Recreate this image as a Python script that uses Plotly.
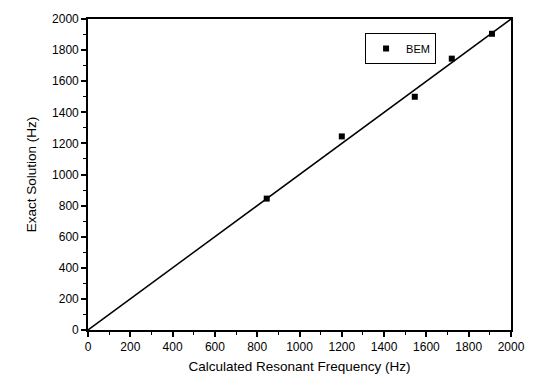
import plotly.graph_objects as go

calc_freq = [845, 1200, 1545, 1720, 1910]
exact_sol = [845, 1245, 1500, 1745, 1905]
line_x = [0, 2000]
line_y = [0, 2000]
tick_vals = [0, 200, 400, 600, 800, 1000, 1200, 1400, 1600, 1800, 2000]

FONT = "Liberation Sans, Arial"

fig = go.Figure()
fig.add_trace(go.Scatter(x=line_x, y=line_y, mode="lines",
                         line=dict(color="black", width=1.5), showlegend=False))
fig.add_trace(go.Scatter(x=calc_freq, y=exact_sol, mode="markers", name="BEM",
                         marker=dict(symbol="square", size=6, color="black")))

axis_common = dict(
    range=[0, 2000], tickvals=tick_vals, ticks="outside", ticklen=5, tickwidth=1.5,
    tickcolor="black", showline=True, linecolor="black", linewidth=1.6, mirror=True,
    showgrid=False, zeroline=False,
    minor=dict(dtick=100, ticks="outside", ticklen=3, tickwidth=1.2, tickcolor="black"),
    tickfont=dict(family=FONT, size=12, color="black"),
)

fig.update_layout(
    width=537, height=390,
    margin=dict(l=88, r=14, t=12, b=60),
    plot_bgcolor="white", paper_bgcolor="white",
    xaxis=dict(axis_common, title=dict(text="Calculated Resonant Frequency (Hz)",
                                       font=dict(family=FONT, size=13.5, color="black"),
                                       standoff=8)),
    yaxis=dict(axis_common, title=dict(text="Exact Solution (Hz)",
                                       font=dict(family=FONT, size=13.5, color="black"),
                                       standoff=12)),
    legend=dict(x=0.655, y=0.955, xanchor="left", yanchor="top",
                bordercolor="black", borderwidth=1, bgcolor="white",
                font=dict(family=FONT, size=11, color="black"),
                itemwidth=30, tracegroupgap=0),
)

fig.write_html("out.html")
